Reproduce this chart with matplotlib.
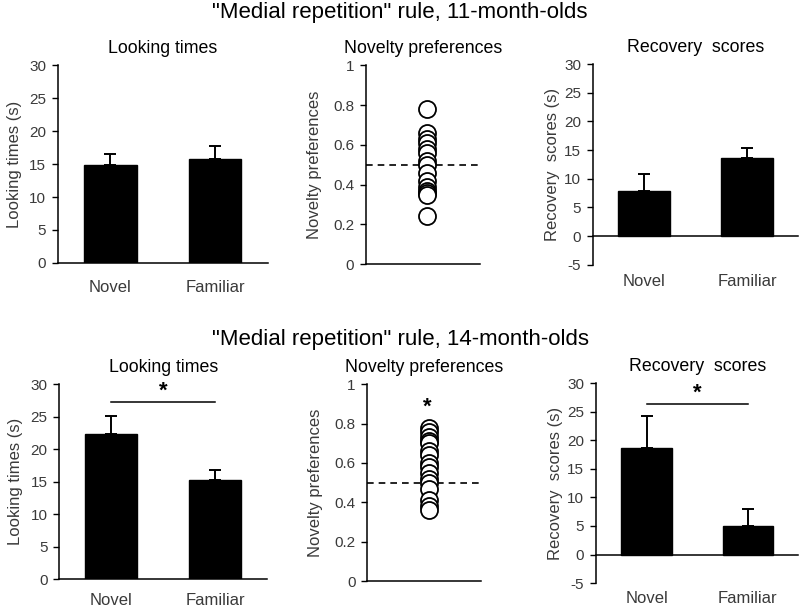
import matplotlib
matplotlib.use("Agg")
import matplotlib.pyplot as plt
import numpy as np

plt.rcParams['font.family'] = ['Liberation Sans', 'DejaVu Sans']
plt.rcParams['axes.unicode_minus'] = False

conditions = ["Novel", "Familiar"]

# 11-month-olds
lt11_mean = [14.8, 15.7]
lt11_err = [1.8, 2.0]
rs11_mean = [7.8, 13.7]
rs11_err = [3.0, 1.7]
np11 = [0.78, 0.66, 0.63, 0.61, 0.58, 0.56, 0.52, 0.50, 0.46, 0.42, 0.39, 0.37, 0.36, 0.35, 0.24]

# 14-month-olds
lt14_mean = [22.3, 15.3]
lt14_err = [2.9, 1.5]
rs14_mean = [18.7, 5.0]
rs14_err = [5.5, 3.0]
np14 = [0.78, 0.76, 0.73, 0.71, 0.70, 0.66, 0.64, 0.60, 0.58, 0.55, 0.52, 0.50, 0.47, 0.41, 0.38, 0.36]

row_titles = ['"Medial repetition" rule, 11-month-olds', '"Medial repetition" rule, 14-month-olds']

GRAY = '#3a3a3a'
TICK_FS = 11
LAB_FS = 12
TITLE_FS = 12.8

fig = plt.figure(figsize=(8, 6.1), dpi=100)

def style_axis(ax, xpad):
    for s in ['top', 'right']:
        ax.spines[s].set_visible(False)
    ax.spines['left'].set_linewidth(1.1)
    ax.spines['bottom'].set_linewidth(1.1)
    ax.tick_params(axis='y', direction='out', length=4.5, width=1.0, labelsize=TICK_FS,
                   labelcolor=GRAY, pad=4)
    ax.tick_params(axis='x', length=0, labelsize=LAB_FS, labelcolor=GRAY, pad=xpad)

def bar_panel(ax, means, errs, title, ylabel, ymin, xpad, lpad, sig=None):
    x = np.arange(len(conditions))
    ax.bar(x, means, width=0.5, color='black', edgecolor='black', zorder=2,
           yerr=[[0] * len(errs), errs], capsize=4,
           error_kw=dict(elinewidth=1.4, capthick=1.4, ecolor='black', zorder=1))
    ax.set_xlim(-0.5, 1.5)
    ax.set_ylim(ymin, 30)
    ax.set_yticks(np.arange(ymin, 31, 5))
    ax.set_xticks(x)
    ax.set_xticklabels(conditions)
    style_axis(ax, xpad)
    if ymin < 0:
        ax.spines['bottom'].set_visible(False)
        ax.axhline(0, color='black', lw=1.1, zorder=3, clip_on=False)
        ax.set_xlim(-0.5, 1.5)
    ax.set_ylabel(ylabel, fontsize=LAB_FS, color=GRAY, labelpad=lpad)
    ax.set_title(title, fontsize=TITLE_FS, pad=9)
    if sig is not None:
        ax.plot([0, 1], [sig, sig], color='black', lw=1.1)
        ax.text(0.5, sig + 0.1, '*', ha='center', va='bottom', fontsize=16, fontweight='bold')

def nov_panel(ax, vals, star=False):
    ax.scatter(np.zeros(len(vals)), vals, s=150, facecolors='white', edgecolors='black',
               linewidths=1.3, zorder=3)
    ax.set_xlim(-1.0, 0.85)
    ax.set_ylim(0, 1)
    ax.axhline(0.5, color='black', lw=1.2, ls=(0, (4, 3)), zorder=2)
    ax.set_yticks([0, 0.2, 0.4, 0.6, 0.8, 1])
    ax.set_yticklabels(['0', '0.2', '0.4', '0.6', '0.8', '1'])
    ax.set_xticks([])
    style_axis(ax, 10)
    ax.set_ylabel('Novelty preferences', fontsize=LAB_FS, color=GRAY, labelpad=8)
    ax.set_title('Novelty preferences', fontsize=TITLE_FS, pad=9)
    if star:
        ax.text(-0.02, 0.83, '*', ha='center', va='bottom', fontsize=16, fontweight='bold')

# top row
ax1 = fig.add_axes([0.0725, 0.569, 0.262, 0.324])
ax2 = fig.add_axes([0.4575, 0.567, 0.142, 0.326])
ax3 = fig.add_axes([0.741, 0.566, 0.257, 0.329])
# bottom row
ax4 = fig.add_axes([0.074, 0.0508, 0.260, 0.319])
ax5 = fig.add_axes([0.459, 0.0475, 0.142, 0.3225])
ax6 = fig.add_axes([0.745, 0.044, 0.253, 0.328])

bar_panel(ax1, lt11_mean, lt11_err, 'Looking times', 'Looking times (s)', 0, 12, 5)
nov_panel(ax2, np11)
bar_panel(ax3, rs11_mean, rs11_err, 'Recovery  scores', 'Recovery  scores (s)', -5, 7, 3)

bar_panel(ax4, lt14_mean, lt14_err, 'Looking times', 'Looking times (s)', 0, 10, 5, sig=27.3)
nov_panel(ax5, np14, star=True)
bar_panel(ax6, rs14_mean, rs14_err, 'Recovery  scores', 'Recovery  scores (s)', -5, 5.5, 3, sig=26.3)

fig.text(0.5, 0.980, row_titles[0], ha='center', va='center', fontsize=16)
fig.text(0.5, 0.443, row_titles[1], ha='center', va='center', fontsize=16)

fig.savefig('out.png', dpi=100)
